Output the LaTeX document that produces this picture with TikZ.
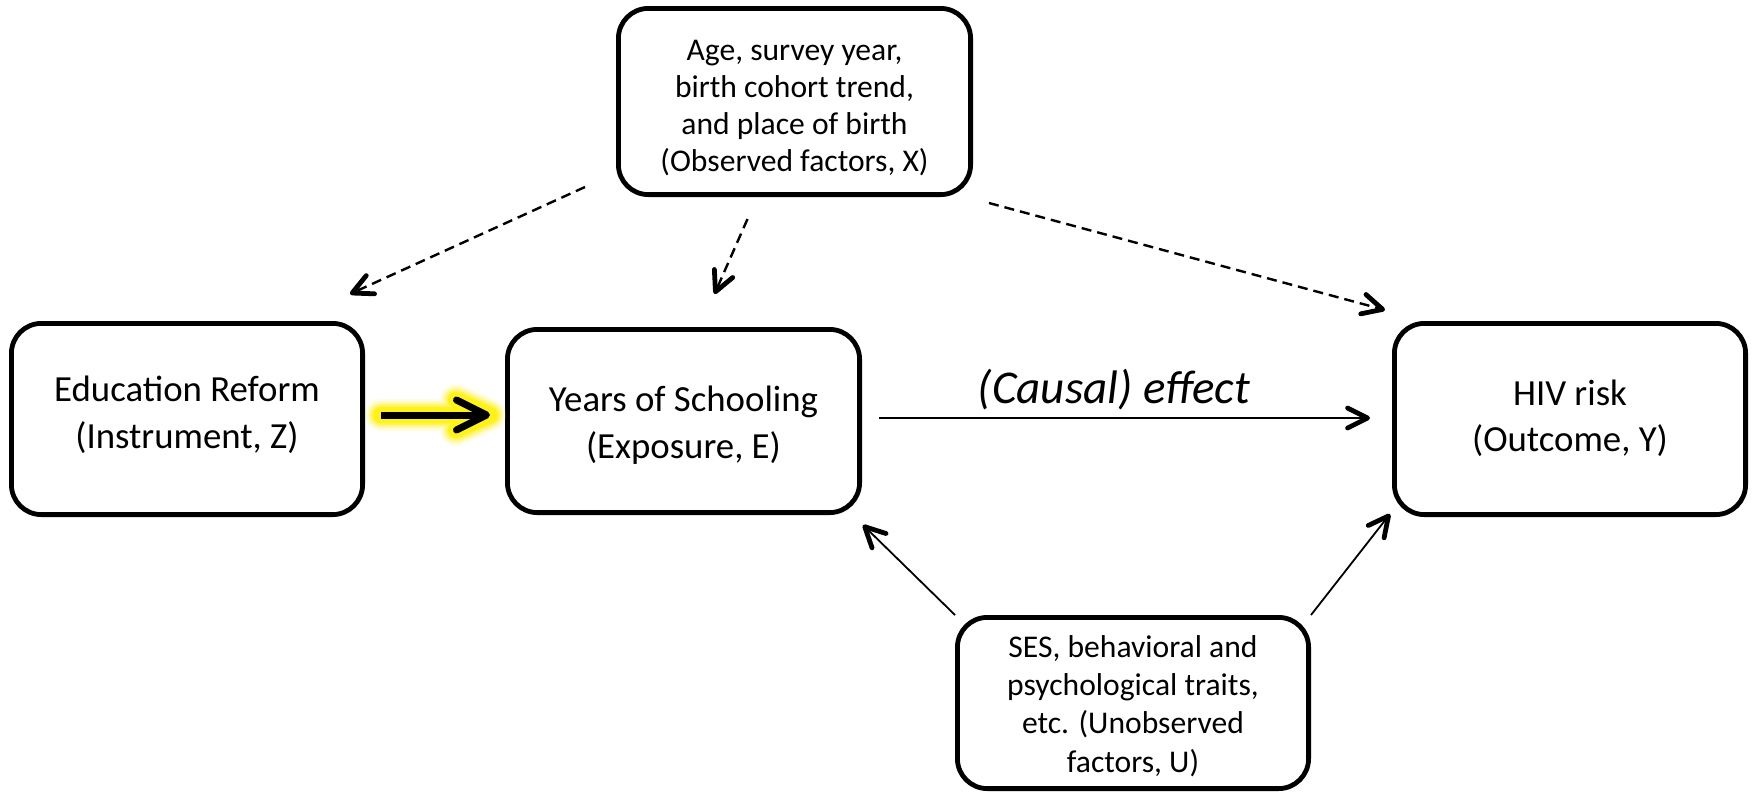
\documentclass[tikz,border=0pt]{standalone}
\usepackage{fontspec}
\setmainfont{Carlito}
\usetikzlibrary{arrows.meta,calc}
\newcommand{\boxlines}[2]{\raisebox{#1}[\height][\depth]{\begin{tabular}{@{}c@{}}#2\end{tabular}}}
\begin{document}
\begin{tikzpicture}[x=0.5pt,y=-0.5pt,
  box/.style={draw, line width=2.4pt, rounded corners=15pt, align=center, inner sep=0pt, fill=white},
  bigtext/.style={font=\fontsize{18.4pt}{23.3pt}\selectfont},
  xtext/.style={font=\fontsize{15.8pt}{18.5pt}\selectfont},
  utext/.style={font=\fontsize{15.8pt}{19.2pt}\selectfont},
  tipA/.style={-{Straight Barb[length=10pt,width=10pt,line width=2.4pt,round]}},
  dashedarrow/.style={tipA, line width=1.2pt, dash pattern=on 5pt off 3pt},
  solidarrow/.style={tipA, line width=0.9pt},
  glow/.style={yellow, line cap=round, line join=round},
]
\fill[white] (0,0) rectangle (1752,793);
\useasboundingbox (0,0) rectangle (1752,793);

% boxes
\node[box, bigtext, minimum width=175.6pt, minimum height=95.6pt] (Z) at (187,419)
  {\boxlines{1.7pt}{Education Reform\\(Instrument, Z)}};
\node[box, bigtext, minimum width=176.1pt, minimum height=91.6pt] (E) at (683.5,421)
  {\boxlines{-2.3pt}{Years of Schooling\\(Exposure, E)}};
\node[box, bigtext, minimum width=175.6pt, minimum height=95.6pt] (Y) at (1570,419)
  {\boxlines{0pt}{HIV risk\\(Outcome, Y)}};
\node[box, xtext, minimum width=176.1pt, minimum height=93.1pt] (X) at (794.5,101.5)
  {\boxlines{-3.5pt}{Age, survey year,\\birth cohort trend,\\and place of birth\\(Observed factors, X)}};
\node[box, utext, minimum width=175.6pt, minimum height=85.6pt] (U) at (1133,703)
  {\boxlines{-2pt}{SES, behavioral and\\psychological traits,\\etc. (Unobserved\\factors, U)}};

% instrument arrow with yellow glow
\coordinate (zt) at ($(Z.east)+(16,-4)$);
\coordinate (et) at ($(E.west)+(-15,-6)$);
\foreach \w/\o in {16pt/0.1, 14pt/0.15, 12pt/0.25, 10pt/0.4, 8pt/0.7}
  \draw[glow, line width=\w, opacity=\o] (zt) -- (et) ($(et)+(-34,-15)$) -- (et) -- ($(et)+(-34,15)$);
\draw[line width=3.5pt, -{Straight Barb[length=15pt,width=15pt,round]}] (zt) -- (et);

% causal effect
\coordinate (c1) at ($(E.east)+(17,-3)$);
\coordinate (c2) at ($(Y.west)+(-22,-1)$);
\draw[solidarrow] (c1) -- (c2);
\node[font=\fontsize{23.5pt}{28pt}\selectfont\itshape, anchor=base] (lab) at (1114,403) {(Causal) effect};

% observed factors (dashed)
\coordinate (d1s) at ($(X.south west)+(-31,-10)$);
\coordinate (d1e) at ($(Z.north east)+(-15,-27)$);
\coordinate (d2s) at ($(X.south)+(-47,22)$);
\coordinate (d2e) at ($(E.north)+(31,-33)$);
\coordinate (d3s) at ($(X.south east)+(16,6)$);
\coordinate (d3e) at ($(Y.north west)+(-7,-11)$);
\draw[dashedarrow] (d1s) -- (d1e);
\draw[dashedarrow] (d2s) -- (d2e);
\draw[dashedarrow] (d3s) -- (d3e);

% unobserved factors
\coordinate (u1e) at ($(E.south east)+(1,10)$);
\coordinate (u2e) at ($(Y.south west)+(-2,-3)$);
\draw[solidarrow] (U.north west) -- (u1e);
\draw[solidarrow] (U.north east) -- (u2e);
\end{tikzpicture}
\end{document}
